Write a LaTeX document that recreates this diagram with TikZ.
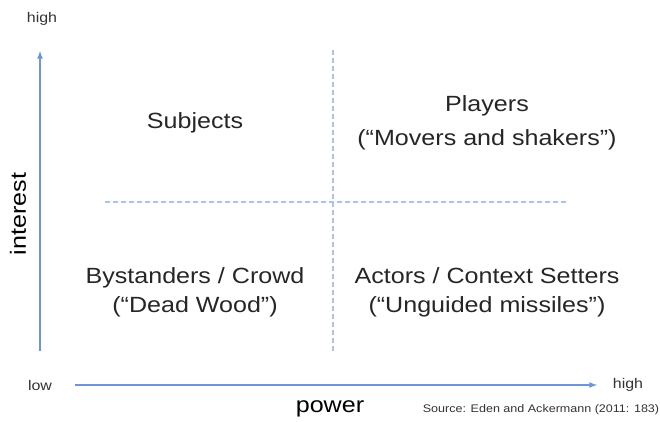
\documentclass[tikz,border=0pt]{standalone}
\usepackage{fontspec}
\setmainfont{Liberation Sans}[FakeStretch=1.14]
\usetikzlibrary{positioning}
\definecolor{axisblue}{RGB}{110,150,215}
\definecolor{gridblue}{RGB}{170,195,235}
\tikzset{
	axis/.style={->, >=latex, line width=1.6pt, draw=axisblue},
	grid/.style={dash pattern=on 5pt off 3pt, line width=1.2pt, draw=gridblue},
	quad/.style={align=center, font=\fontsize{22}{34}\selectfont, text=black!85},
	tick/.style={font=\fontsize{14}{16}\selectfont, text=black!80},
}
\begin{document}
\begin{tikzpicture}[x=1pt, y=-1pt]
		\useasboundingbox (0,0) rectangle (660,422);
		\coordinate (yfoot) at (40,351);
		\coordinate (ytip) at (40,51);
		\coordinate (xfoot) at (75,385);
		\coordinate (xtip) at (597,385);
		\draw[axis] (yfoot) -- (ytip);
		\draw[axis] (xfoot) -- (xtip);
		\node[tick] (yhigh) at (42,19) {high};
		\node[tick] (xlow) at (40,385) {low};
		\node[tick] (xhigh) at (628,385) {high};
		\node[font=\fontsize{22}{24}\selectfont, rotate=90] (interest) at (18,214) {interest};
		\node[font=\fontsize{22}{24}\selectfont] (power) at (330,409) {power};
		\node[font=\fontsize{11}{13}\selectfont, text=black!80] (source) at (541,410) {Source: Eden and Ackermann (2011: 183)};
		\coordinate (vtop) at (333,50);
		\coordinate (vbot) at (333,352);
		\coordinate (hleft) at (105,202);
		\coordinate (hright) at (567,202);
		\draw[grid] (vtop) -- (vbot);
		\draw[grid] (hleft) -- (hright);
		\node[quad] (subjects) at (195,123) {Subjects};
		\node[quad] (players) at (487,123) {Players\\(“Movers and shakers”)};
		\node[quad, font=\fontsize{22}{29}\selectfont] (bystanders) at (195,292.5) {Bystanders / Crowd\\(“Dead Wood”)};
		\node[quad, font=\fontsize{22}{29}\selectfont] (actors) at (487,292.5) {Actors / Context Setters\\(“Unguided missiles”)};
	\end{tikzpicture}
\end{document}
